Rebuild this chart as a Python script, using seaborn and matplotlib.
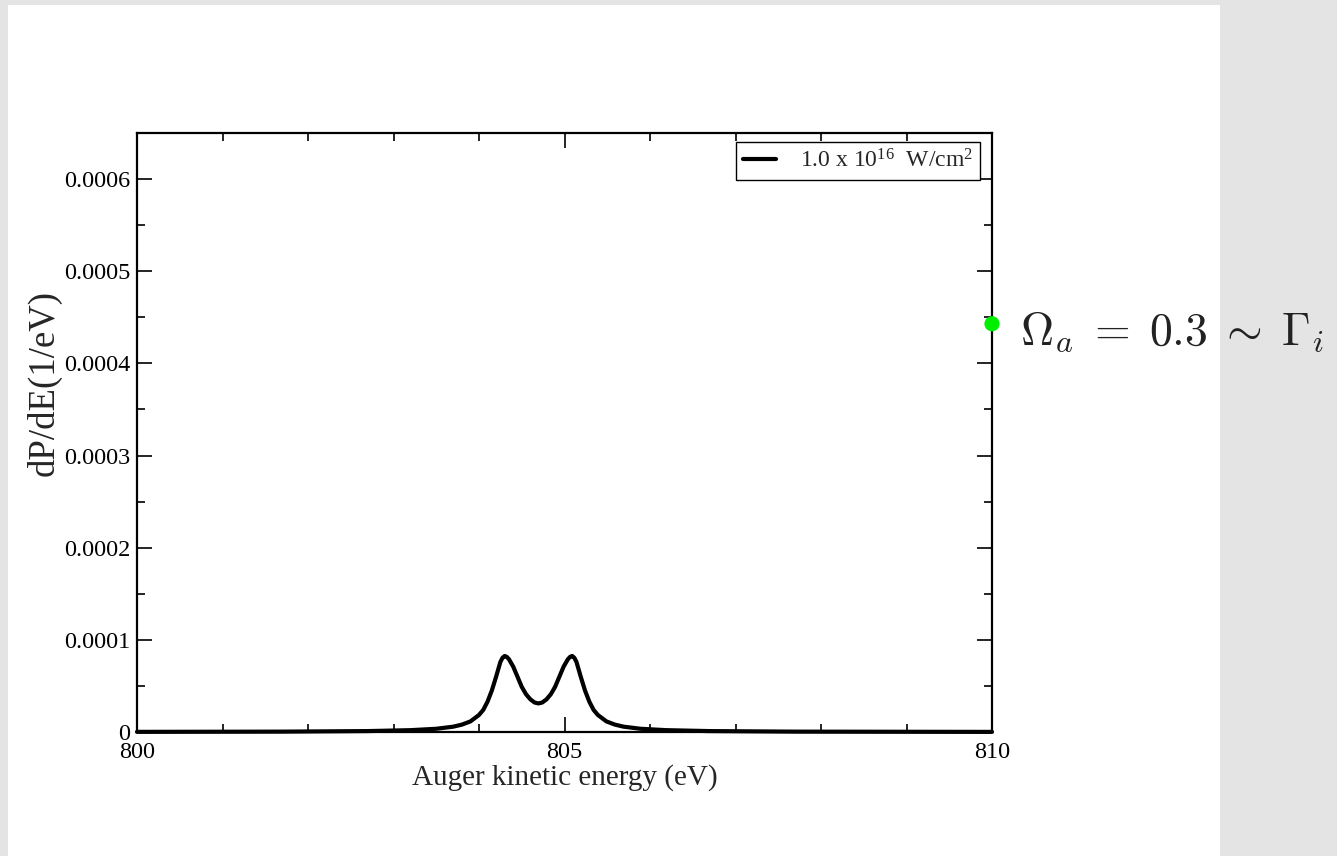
import numpy as np
import pandas as pd
import matplotlib
matplotlib.use("Agg")
import matplotlib.pyplot as plt
from matplotlib.patches import Rectangle
from matplotlib.ticker import MultipleLocator, FixedLocator, FixedFormatter
import seaborn as sns

# ---- data ----
energy = [800.0, 801.7, 802.7, 803.2, 803.5, 803.7, 803.8, 803.9, 804.0, 804.05,
          804.1, 804.15, 804.2, 804.25, 804.275, 804.3, 804.325, 804.35, 804.4, 804.45,
          804.5, 804.55, 804.6, 804.65, 804.695, 804.74, 804.79, 804.84, 804.89, 804.94,
          804.99, 805.04, 805.065, 805.09, 805.115, 805.14, 805.19, 805.24, 805.29, 805.34,
          805.39, 805.49, 805.59, 805.69, 805.89, 806.19, 806.69, 807.69, 810.0]
dpde_e5 = [0.015, 0.04, 0.1, 0.2, 0.35, 0.58, 0.8, 1.15, 1.85, 2.4,
           3.3, 4.5, 6.0, 7.6, 8.05, 8.25, 8.15, 7.9, 7.1, 6.0,
           4.9, 4.1, 3.55, 3.2, 3.1, 3.2, 3.55, 4.1, 4.9, 6.0,
           7.1, 7.9, 8.15, 8.25, 8.05, 7.6, 6.0, 4.5, 3.3, 2.4,
           1.85, 1.15, 0.8, 0.58, 0.35, 0.2, 0.1, 0.04, 0.012]
series_label = r"1.0 x 10$^{16}$  W/cm$^{2}$"
x_ticks = [800, 805, 810]
x_tick_labels = ["800", "805", "810"]
y_ticks = [0, 0.0001, 0.0002, 0.0003, 0.0004, 0.0005, 0.0006]
y_tick_labels = ["0", "0.0001", "0.0002", "0.0003", "0.0004", "0.0005", "0.0006"]
marker_point = (810.0, 0.000443)
annotation = r"$\Omega_a \;=\; 0.3 \;\sim\; \Gamma_i$"

df = pd.DataFrame({"energy": energy, "dPdE": [v * 1e-5 for v in dpde_e5]})

sns.set_style("ticks")
plt.rcParams["font.family"] = ["Liberation Serif", "DejaVu Serif"]
plt.rcParams["mathtext.fontset"] = "custom"
plt.rcParams["mathtext.rm"] = "Liberation Serif"
plt.rcParams["mathtext.it"] = "Liberation Serif:italic"

W, H = 1337, 856
fig = plt.figure(figsize=(W / 100, H / 100), dpi=100)
fig.patch.set_facecolor("#e4e4e4")
fig.patches.append(Rectangle((8 / W, 0), (1220 - 8) / W, (856 - 5) / H,
                             transform=fig.transFigure, facecolor="white",
                             edgecolor="none", zorder=-10))

ax = fig.add_axes([137 / W, (H - 732) / H, (992 - 137) / W, (732 - 133) / H])
ax.set_zorder(2)
ax.set_facecolor("white")

sns.lineplot(data=df, x="energy", y="dPdE", ax=ax, color="black", linewidth=3.0,
             label=series_label, clip_on=False, zorder=3)

ax.set_xlim(800, 810)
ax.set_ylim(0, 0.00065)
ax.xaxis.set_major_locator(FixedLocator(x_ticks))
ax.xaxis.set_major_formatter(FixedFormatter(x_tick_labels))
ax.xaxis.set_minor_locator(MultipleLocator(1))
ax.yaxis.set_major_locator(FixedLocator(y_ticks))
ax.yaxis.set_major_formatter(FixedFormatter(y_tick_labels))
ax.yaxis.set_minor_locator(MultipleLocator(0.00005))

ax.tick_params(which="both", direction="in", top=True, right=True, width=1.2,
               colors="black", labelsize=17.5)
ax.tick_params(which="major", length=11)
ax.tick_params(which="minor", length=6)
ax.tick_params(axis="x", pad=7)
ax.tick_params(axis="y", pad=5)
for s in ax.spines.values():
    s.set_linewidth(1.6)
    s.set_color("black")

ax.set_xlabel("Auger kinetic energy (eV)", fontsize=21, labelpad=1)
ax.set_ylabel("dP/dE(1/eV)", fontsize=26.5)
ax.yaxis.set_label_coords((62 - 137) / 855, (732 - 383) / 599)

leg = ax.legend(loc="upper right", bbox_to_anchor=(0.9995, 1.004), fontsize=17,
                frameon=True, fancybox=False, handlelength=1.4, borderpad=0.3,
                handletextpad=1.0, borderaxespad=0.5)
leg.get_frame().set_edgecolor("black")
leg.get_frame().set_linewidth(1.0)
leg.get_frame().set_alpha(1)

ax.scatter([marker_point[0]], [marker_point[1]], s=120, color="#00ee00",
           edgecolor="none", clip_on=False, zorder=5)

fig.text(1020 / W, (H - 345) / H, annotation, fontsize=33, math_fontfamily="cm",
         ha="left", va="baseline", color="#222222", zorder=5)

fig.savefig("out.png", dpi=100, facecolor=fig.get_facecolor())
